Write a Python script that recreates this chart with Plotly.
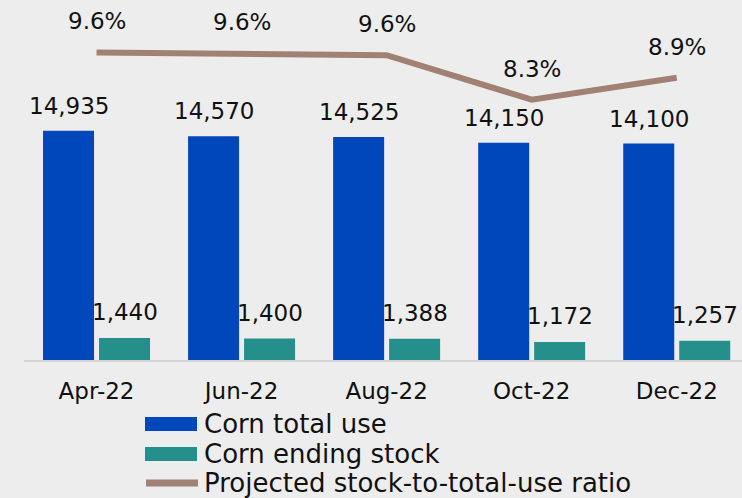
import plotly.graph_objects as go

months = ["Apr-22", "Jun-22", "Aug-22", "Oct-22", "Dec-22"]
total_use = [14935, 14570, 14525, 14150, 14100]
ending_stock = [1440, 1400, 1388, 1172, 1257]
stock_ratio_pct = [9.64, 9.61, 9.56, 8.28, 8.91]

series_names = ["Corn total use", "Corn ending stock", "Projected stock-to-total-use ratio"]
BLUE = "#0047BB"
TEAL = "#258F8B"
BROWN = "#A08173"
BG = "#EDEDED"
FONT = "DejaVu Sans"

W, H = 742, 498
M_L, M_R, M_T, M_B = 24, 0, 0, 138
PLOT_H = H - M_T - M_B

fig = go.Figure()
fig.add_trace(go.Bar(x=months, y=total_use, name=series_names[0],
                     marker=dict(color=BLUE, line=dict(width=0))))
fig.add_trace(go.Bar(x=months, y=ending_stock, name=series_names[1],
                     marker=dict(color=TEAL, line=dict(width=0))))
fig.add_trace(go.Scatter(x=months, y=stock_ratio_pct, name=series_names[2],
                         mode="lines", yaxis="y2",
                         line=dict(color=BROWN, width=6)))

annotations = []
# value labels above each bar and each point of the ratio line
for i, m in enumerate(months):
    annotations.append(dict(x=m, y=total_use[i], xref="x", yref="y",
                            text=f"{total_use[i]:,}", showarrow=False,
                            xshift=-28, yshift=25, yanchor="middle",
                            font=dict(family=FONT, size=23, color="#111111")))
    annotations.append(dict(x=m, y=ending_stock[i], xref="x", yref="y",
                            text=f"{ending_stock[i]:,}", showarrow=False,
                            xshift=28, yshift=26, yanchor="middle",
                            font=dict(family=FONT, size=23, color="#111111")))
    annotations.append(dict(x=m, y=stock_ratio_pct[i], xref="x", yref="y2",
                            text=f"{stock_ratio_pct[i]:.1f}%", showarrow=False,
                            yshift=31, yanchor="middle",
                            font=dict(family=FONT, size=23, color="#111111")))


def py(pixel_y):
    # convert a page pixel row into paper coordinates of the plot area
    return (H - M_B - pixel_y) / PLOT_H


def px(pixel_x):
    return (pixel_x - M_L) / (W - M_L - M_R)


# hand-drawn legend below the axis
shapes = []
rows = [424, 454, 483]
for name, row, kind, color in zip(series_names, rows, ["bar", "bar", "line"],
                                  [BLUE, TEAL, BROWN]):
    if kind == "bar":
        shapes.append(dict(type="rect", xref="paper", yref="paper",
                           x0=px(145), x1=px(197), y0=py(row - 7), y1=py(row + 7),
                           fillcolor=color, line=dict(width=0)))
    else:
        shapes.append(dict(type="line", xref="paper", yref="paper",
                           x0=px(146), x1=px(198), y0=py(row), y1=py(row),
                           line=dict(color=color, width=7)))
    annotations.append(dict(x=px(202), y=py(row), xref="paper", yref="paper",
                            text=name, showarrow=False, xanchor="left",
                            yanchor="middle",
                            font=dict(family=FONT, size=26, color="#111111")))

fig.update_layout(
    width=W, height=H,
    margin=dict(l=M_L, r=M_R, t=M_T, b=M_B),
    paper_bgcolor=BG, plot_bgcolor=BG,
    barmode="group", bargap=0.228, bargroupgap=0.089,
    showlegend=False,
    font=dict(family=FONT, size=23, color="#111111"),
    xaxis=dict(range=[-0.5, 4.45], showgrid=False, zeroline=False,
               showline=True, linecolor="#D6D6D6", linewidth=2,
               ticks="", ticklabelstandoff=9,
               tickfont=dict(family=FONT, size=23, color="#111111")),
    yaxis=dict(range=[0, 23450], visible=False, showgrid=False, zeroline=False),
    yaxis2=dict(range=[0.78, 11.15], overlaying="y", visible=False,
                showgrid=False, zeroline=False),
    annotations=annotations,
    shapes=shapes,
)

fig.write_html("out.html")
